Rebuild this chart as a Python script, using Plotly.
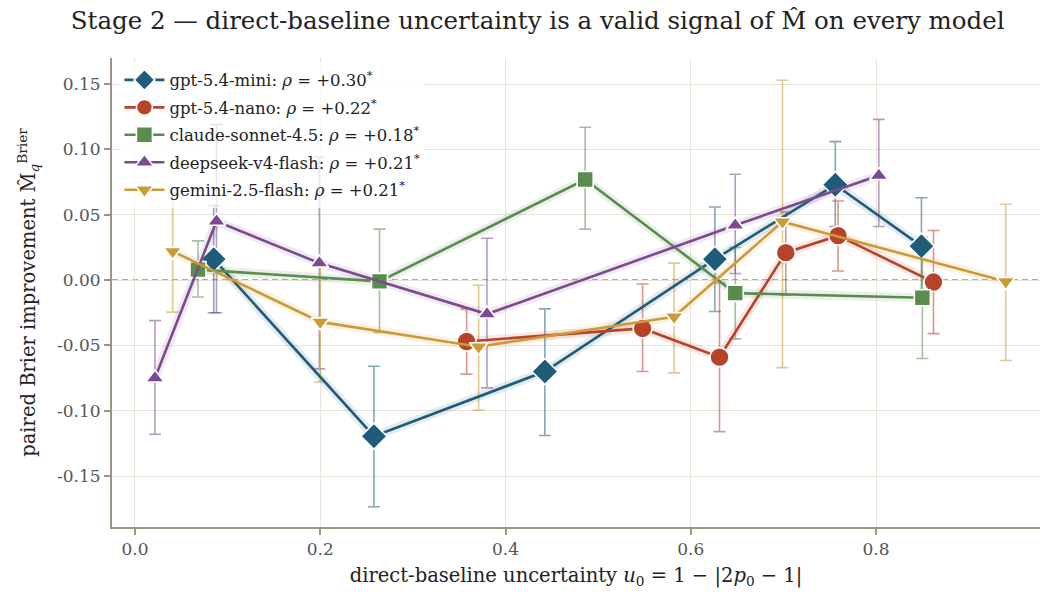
import plotly.graph_objects as go

# ---- data ----
models = ["gpt-5.4-mini", "gpt-5.4-nano", "claude-sonnet-4.5", "deepseek-v4-flash", "gemini-2.5-flash"]
rhos = ["+0.30", "+0.22", "+0.18", "+0.21", "+0.21"]

mini_x = [0.085, 0.258, 0.4425, 0.626, 0.756, 0.849]
mini_y = [0.016, -0.1195, -0.070, 0.016, 0.073, 0.026]
mini_lo = [-0.025, -0.1735, -0.119, -0.024, 0.041, -0.011]
mini_hi = [0.057, -0.066, -0.022, 0.056, 0.106, 0.063]

nano_x = [0.358, 0.548, 0.631, 0.7026, 0.759, 0.862]
nano_y = [-0.047, -0.037, -0.059, 0.021, 0.034, -0.0015]
nano_lo = [-0.072, -0.070, -0.116, -0.0115, 0.007, -0.041]
nano_hi = [-0.022, -0.003, -0.002, 0.052, 0.0605, 0.038]

claude_x = [0.068, 0.264, 0.486, 0.648, 0.850]
claude_y = [0.008, -0.001, 0.077, -0.010, -0.0135]
claude_lo = [-0.013, -0.040, 0.039, -0.045, -0.060]
claude_hi = [0.030, 0.039, 0.117, 0.025, 0.033]

deep_x = [0.0216, 0.088, 0.199, 0.380, 0.648, 0.803]
deep_y = [-0.075, 0.045, 0.013, -0.026, 0.042, 0.080]
deep_lo = [-0.118, -0.025, -0.068, -0.0825, 0.005, 0.041]
deep_hi = [-0.031, 0.119, 0.094, 0.032, 0.081, 0.123]

gem_x = [0.0407, 0.200, 0.371, 0.582, 0.699, 0.940]
gem_y = [0.022, -0.032, -0.051, -0.028, 0.0447, -0.001]
gem_lo = [-0.0245, -0.078, -0.0995, -0.071, -0.067, -0.0615]
gem_hi = [0.066, 0.014, -0.004, 0.013, 0.153, 0.058]

y_ticks = [0.15, 0.10, 0.05, 0.00, -0.05, -0.10, -0.15]
y_ticklabels = ["0.15", "0.10", "0.05", "0.00", "-0.05", "-0.10", "-0.15"]
x_ticks = [0.0, 0.2, 0.4, 0.6, 0.8]
x_ticklabels = ["0.0", "0.2", "0.4", "0.6", "0.8"]

series = [
    (mini_x, mini_y, mini_lo, mini_hi),
    (nano_x, nano_y, nano_lo, nano_hi),
    (claude_x, claude_y, claude_lo, claude_hi),
    (deep_x, deep_y, deep_lo, deep_hi),
    (gem_x, gem_y, gem_lo, gem_hi),
]

# ---- styles ----
colors = ["#1f5c7a", "#b8432b", "#5b8c4f", "#7b4a8f", "#cc9a36"]
rgb = [(31, 92, 122), (184, 67, 43), (91, 140, 79), (123, 74, 143), (204, 154, 54)]
symbols = ["diamond", "circle", "square", "triangle-up", "triangle-down"]
sizes = [20, 19, 16, 16, 16]
FONT = "DejaVu Serif"

fig = go.Figure()

fig.add_hline(y=0, line=dict(color="#96918a", width=1.6, dash="6px,4px"), layer="below")

# error bars
for (x, y, lo, hi), c in zip(series, rgb):
    fig.add_trace(go.Scatter(
        x=x, y=y, mode="markers", showlegend=False, hoverinfo="skip",
        marker=dict(size=1, opacity=0),
        error_y=dict(type="data", symmetric=False,
                     array=[h - v for h, v in zip(hi, y)],
                     arrayminus=[v - l for l, v in zip(lo, y)],
                     color=f"rgba({c[0]},{c[1]},{c[2]},0.55)", thickness=1.6, width=6),
    ))

# halos
for (x, y, lo, hi), c in zip(series, rgb):
    fig.add_trace(go.Scatter(
        x=x, y=y, mode="lines", showlegend=False, hoverinfo="skip",
        line=dict(color=f"rgba({c[0]},{c[1]},{c[2]},0.12)", width=9),
    ))

# lines + markers
for (x, y, lo, hi), name, rho, col, sym, sz in zip(series, models, rhos, colors, symbols, sizes):
    fig.add_trace(go.Scatter(
        x=x, y=y, mode="lines+markers", legendgroup=name,
        name=f"{name}: <i>ρ</i> = {rho}<sup>*</sup>",
        line=dict(color=col, width=2.6),
        marker=dict(symbol=sym, size=sz, color=col, line=dict(color="white", width=1.6)),
    ))

fig.update_layout(
    width=1042, height=597,
    margin=dict(l=112, r=2, t=58, b=70),
    paper_bgcolor="white", plot_bgcolor="white",
    font=dict(family=FONT, color="#333333", size=16),
    title=dict(text="Stage 2 — direct-baseline uncertainty is a valid signal of M̂ on every model",
               x=0.516, xanchor="center", y=0.965, yanchor="middle",
               font=dict(family=FONT, size=24.5, color="#222222")),
    legend=dict(x=0.008, y=0.99, xanchor="left", yanchor="top",
                bgcolor="rgba(255,255,255,0.75)", borderwidth=0,
                font=dict(family=FONT, size=16.5, color="#222222"),
                tracegroupgap=3, itemwidth=40),
    showlegend=True,
)

fig.update_xaxes(
    range=[-0.0248, 0.977], tickvals=x_ticks, ticktext=x_ticklabels,
    showgrid=True, gridcolor="#e9e5db", gridwidth=1,
    showline=True, linecolor="#9c9586", linewidth=2,
    ticks="outside", ticklen=6, tickcolor="#9c9586", tickwidth=1.5,
    tickfont=dict(family=FONT, size=17, color="#555555"),
    zeroline=False,
    title=dict(text="direct-baseline uncertainty <i>u</i><sub>0</sub> = 1 − |2<i>p</i><sub>0</sub> − 1|",
               font=dict(family=FONT, size=19.5, color="#222222"), standoff=10),
)
fig.update_yaxes(
    range=[-0.189, 0.170], tickvals=y_ticks, ticktext=y_ticklabels,
    showgrid=True, gridcolor="#e9e5db", gridwidth=1,
    showline=True, linecolor="#9c9586", linewidth=2,
    ticks="outside", ticklen=6, tickcolor="#9c9586", tickwidth=1.5,
    tickfont=dict(family=FONT, size=17, color="#555555"),
    zeroline=False,
    title=dict(text="paired Brier improvement M̂<sub><i>q</i></sub><sup>Brier</sup>",
               font=dict(family=FONT, size=19.5, color="#222222"), standoff=16),
)

fig.write_html("out.html")
